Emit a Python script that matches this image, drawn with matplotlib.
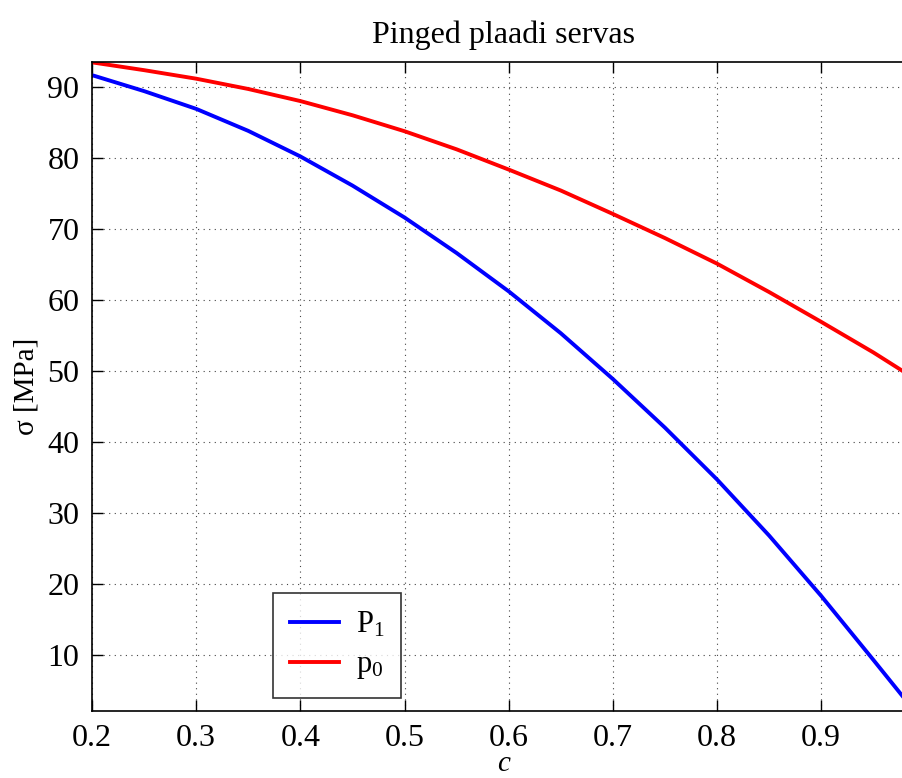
import matplotlib
matplotlib.use("Agg")
import matplotlib.pyplot as plt

# Data
c_vals = [0.20, 0.25, 0.30, 0.35, 0.40, 0.45, 0.50, 0.55, 0.60, 0.65,
          0.70, 0.75, 0.80, 0.85, 0.90, 0.95, 0.978, 0.99]
P1_vals = [91.65, 89.4, 86.9, 83.8, 80.2, 76.1, 71.6, 66.6, 61.2, 55.3,
           48.85, 42.0, 34.7, 26.8, 18.3, 9.3, 4.2, 2.1]
p0_vals = [93.45, 92.35, 91.15, 89.7, 88.0, 86.0, 83.75, 81.2, 78.35, 75.4,
           72.1, 68.7, 65.1, 61.1, 56.9, 52.6, 50.0, 48.9]
x_ticks = [0.2, 0.3, 0.4, 0.5, 0.6, 0.7, 0.8, 0.9]
y_ticks = [10, 20, 30, 40, 50, 60, 70, 80, 90]
title_text = "Pinged plaadi servas"
series_labels = ["P$_1$", "p$_0$"]

plt.rcParams['font.family'] = ['Liberation Serif', 'DejaVu Serif']
plt.rcParams['mathtext.fontset'] = 'custom'
plt.rcParams['mathtext.rm'] = 'Liberation Serif'
plt.rcParams['mathtext.it'] = 'Liberation Serif:italic'

fig = plt.figure(figsize=(9.03, 7.78), dpi=100)
ax = fig.add_axes([92/903, 1-711/778, (915-92)/903, (711-62)/778])

ax.plot(c_vals, P1_vals, color='#0000ff', lw=2.8, label=series_labels[0],
        solid_joinstyle='round')
ax.plot(c_vals, p0_vals, color='#ff0000', lw=2.8, label=series_labels[1],
        solid_joinstyle='round')

ax.set_xlim(0.2, 0.99)
ax.set_ylim(2.1, 93.5)
ax.set_xticks(x_ticks)
ax.set_yticks(y_ticks)
ax.set_xticklabels([f"{v:.1f}" for v in x_ticks])
ax.tick_params(direction='in', length=8, width=1, labelsize=23,
               top=True, right=True, pad=9)
ax.grid(True, linestyle=(0, (1, 4)), color='#444444', lw=0.8)
for s in ax.spines.values():
    s.set_linewidth(1.2)

ax.set_title(title_text, fontsize=23, pad=14)
ax.set_xlabel("c", fontsize=21, style='italic', labelpad=-1)
ax.set_ylabel("σ [MPa]", fontsize=21, labelpad=6)

leg = ax.legend(loc='lower left', bbox_to_anchor=(0.22, 0.02), borderaxespad=0,
                fancybox=False, edgecolor='black', fontsize=22,
                handlelength=1.6, handletextpad=0.55, labelspacing=0.35,
                borderpad=0.55)
leg.get_frame().set_linewidth(1.2)

fig.savefig("out.png", dpi=100)
